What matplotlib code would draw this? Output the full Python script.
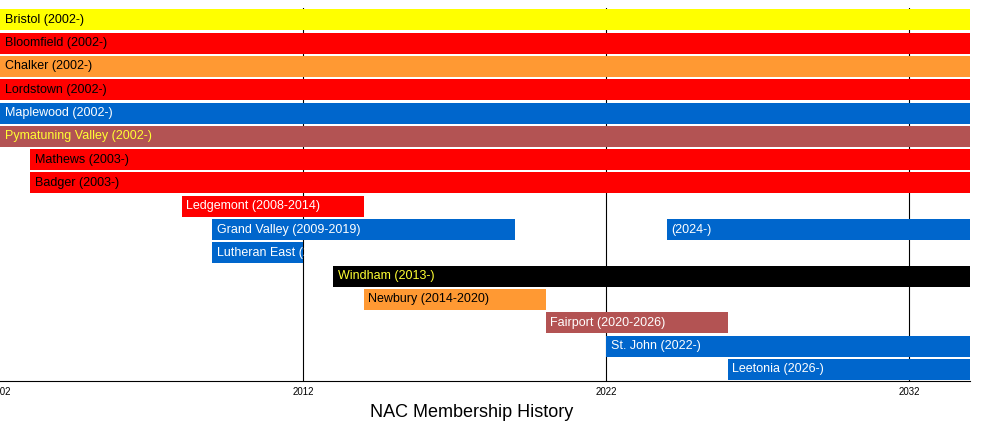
import matplotlib
matplotlib.use("Agg")
import matplotlib.pyplot as plt
plt.rcParams['font.family'] = ['Liberation Sans', 'DejaVu Sans']

names = ["Bristol (2002-)", "Bloomfield (2002-)", "Chalker (2002-)", "Lordstown (2002-)",
         "Maplewood (2002-)", "Pymatuning Valley (2002-)", "Mathews (2003-)", "Badger (2003-)",
         "Ledgemont (2008-2014)", "Grand Valley (2009-2019)", "Lutheran East (2009-2012)",
         "Windham (2013-)", "Newbury (2014-2020)", "Fairport (2020-2026)", "St. John (2022-)",
         "Leetonia (2026-)"]
starts = [2002, 2002, 2002, 2002, 2002, 2002, 2003, 2003, 2008, 2009, 2009, 2013, 2014, 2020, 2022, 2026]
ends = [2034, 2034, 2034, 2034, 2034, 2034, 2034, 2034, 2014, 2019, 2012, 2034, 2020, 2026, 2034, 2034]
colors = ["#ffff00", "#ff0000", "#ff9933", "#ff0000", "#0066cc", "#b35353", "#ff0000", "#ff0000",
          "#ff0000", "#0066cc", "#0066cc", "#000000", "#ff9933", "#b35353", "#0066cc", "#0066cc"]
textcolors = ["black", "black", "black", "black", "white", "#ffff33", "black", "black",
              "white", "white", "white", "#ffff33", "black", "white", "white", "white"]
extra = [(9, 2024, 2034, "(2024-)")]

fig = plt.figure(figsize=(10, 4.3), dpi=100)
ax = fig.add_axes([0, 0.114, 0.97, 0.867])
ax.set_xlim(2002, 2034)
ax.set_ylim(len(names) - 0.5, -0.5)
for x in [2012, 2022, 2032]:
    ax.axvline(x, color="black", lw=0.8, zorder=0)
h = 0.9
for i, (n, s, e, c, tc) in enumerate(zip(names, starts, ends, colors, textcolors)):
    bars = ax.barh(i, e - s, left=s, height=h, color=c, zorder=2)
    t = ax.text(s + 0.15, i, n, va="center", ha="left", fontsize=9, color=tc, zorder=3)
    t.set_clip_path(bars[0])
for i, s, e, lab in extra:
    ax.barh(i, e - s, left=s, height=h, color=colors[i], zorder=2)
    ax.text(s + 0.15, i, lab, va="center", ha="left", fontsize=9, color=textcolors[i], zorder=3)
ax.set_yticks([])
ax.set_xticks([2002, 2012, 2022, 2032])
ax.tick_params(axis="x", labelsize=7, length=0, pad=4)
for sp in ["top", "right", "left"]:
    ax.spines[sp].set_visible(False)
ax.spines["bottom"].set_linewidth(0.8)
fig.text(0.472, 0.04, "NAC Membership History", ha="center", va="center", fontsize=13)
fig.savefig("out.png")
